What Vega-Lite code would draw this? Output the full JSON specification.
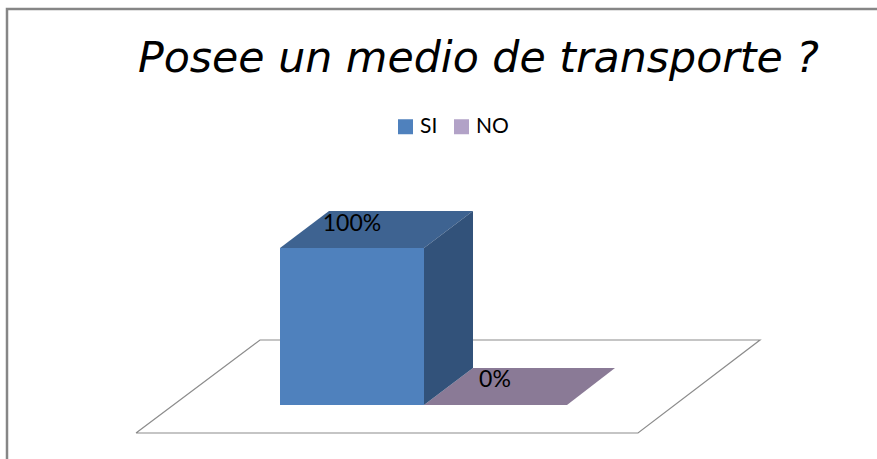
{
  "$schema": "https://vega.github.io/schema/vega-lite/v6.json",
  "width": 877,
  "height": 459,
  "padding": 0,
  "autosize": "none",
  "background": "white",
  "config": {"view": {"stroke": null}},
  "title": {
    "text": "Posee un medio de transporte ?",
    "font": "DejaVu Sans",
    "fontStyle": "italic",
    "fontWeight": "normal",
    "fontSize": 42.7,
    "color": "#000000",
    "anchor": "start",
    "frame": "group",
    "baseline": "alphabetic",
    "dx": 138,
    "dy": 115,
    "offset": 0
  },
  "datasets": {
    "frame": [
      {"x": 7, "y": -34.4, "o": 1},
      {"x": 7, "y": 252.2, "o": 2},
      {"x": 877, "y": 252.2, "o": 3}
    ],
    "floor": [
      {"x": 136, "y": -17.83, "o": 1},
      {"x": 638, "y": -17.83, "o": 2},
      {"x": 760, "y": 41.4, "o": 3},
      {"x": 260, "y": 41.4, "o": 4},
      {"x": 136, "y": -17.83, "o": 5}
    ],
    "front": [
      {"serie": "SI", "x0": 280, "x1": 424, "base": 0, "value": 100},
      {"serie": "NO", "x0": 424, "x1": 567, "base": 0, "value": 0}
    ],
    "topSI": [
      {"y": 100, "x0": 280, "x1": 424},
      {"y": 123.57, "x0": 329, "x1": 473}
    ],
    "topNO": [
      {"y": 0, "x0": 424, "x1": 567},
      {"y": 23.57, "x0": 473, "x1": 615}
    ],
    "sideSI": [
      {"x": 424, "y0": 0, "y1": 100},
      {"x": 473, "y0": 23.57, "y1": 123.57}
    ],
    "labels": [
      {"x": 352, "y": 115.4, "label": "100%"},
      {"x": 495, "y": 16.1, "label": "0%"}
    ]
  },
  "encoding": {},
  "layer": [
    {
      "data": {"name": "frame"},
      "mark": {"type": "line", "stroke": "#868686", "strokeWidth": 2.5},
      "encoding": {
        "x": {"field": "x", "type": "quantitative", "scale": {"domain": [0, 877], "nice": false, "zero": false}, "axis": null},
        "y": {"field": "y", "type": "quantitative", "scale": {"domain": [-34.395, 257.962], "nice": false, "zero": false}, "axis": null},
        "order": {"field": "o"}
      }
    },
    {
      "data": {"name": "floor"},
      "mark": {"type": "line", "stroke": "#8C8C8C", "strokeWidth": 1.2},
      "encoding": {
        "x": {"field": "x", "type": "quantitative", "axis": null},
        "y": {"field": "y", "type": "quantitative", "axis": null},
        "order": {"field": "o"}
      }
    },
    {
      "data": {"name": "topNO"},
      "mark": {"type": "area", "orient": "horizontal", "fill": "#8A7A96"},
      "encoding": {
        "y": {"field": "y", "type": "quantitative", "axis": null},
        "x": {"field": "x0", "type": "quantitative", "axis": null},
        "x2": {"field": "x1"}
      }
    },
    {
      "data": {"name": "topSI"},
      "mark": {"type": "area", "orient": "horizontal", "fill": "#3E6391"},
      "encoding": {
        "y": {"field": "y", "type": "quantitative", "axis": null},
        "x": {"field": "x0", "type": "quantitative", "axis": null},
        "x2": {"field": "x1"}
      }
    },
    {
      "data": {"name": "sideSI"},
      "mark": {"type": "area", "orient": "vertical", "fill": "#32527A"},
      "encoding": {
        "x": {"field": "x", "type": "quantitative", "axis": null},
        "y": {"field": "y0", "type": "quantitative", "axis": null},
        "y2": {"field": "y1"}
      }
    },
    {
      "data": {"name": "front"},
      "mark": {"type": "rect"},
      "encoding": {
        "x": {"field": "x0", "type": "quantitative", "axis": null},
        "x2": {"field": "x1"},
        "y": {"field": "base", "type": "quantitative", "axis": null},
        "y2": {"field": "value"},
        "color": {
          "field": "serie",
          "type": "nominal",
          "scale": {"domain": ["SI", "NO"], "range": ["#4F81BD", "#B2A2C7"]},
          "legend": {
            "title": null,
            "orient": "none",
            "legendX": 395,
            "legendY": 116,
            "direction": "horizontal",
            "columns": 2,
            "symbolType": "square",
            "symbolSize": 225,
            "symbolStrokeWidth": 0,
            "labelFont": "Lato",
            "labelFontSize": 21,
            "labelColor": "#000000",
            "labelOffset": 4,
            "columnPadding": 13
          }
        }
      }
    },
    {
      "data": {"name": "labels"},
      "mark": {"type": "text", "font": "Lato", "fontSize": 23, "color": "#000000", "align": "center", "baseline": "middle"},
      "encoding": {
        "x": {"field": "x", "type": "quantitative", "axis": null},
        "y": {"field": "y", "type": "quantitative", "axis": null},
        "text": {"field": "label"}
      }
    }
  ]
}
